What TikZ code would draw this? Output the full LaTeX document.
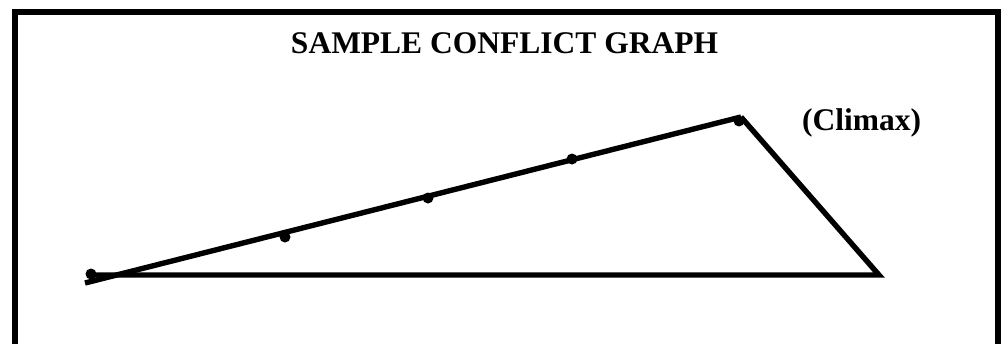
\documentclass[tikz,border=0pt]{standalone}
\usepackage{fontspec}
\setmainfont{Liberation Serif}
\begin{document}
\begin{tikzpicture}[x=1pt,y=-1pt,
  frame/.style={line width=6pt},
  plotline/.style={line width=5.4pt},
  dotmark/.style={circle,fill=black,inner sep=0pt,minimum size=11pt},
  label/.style={font=\bfseries\fontsize{31.5}{35}\selectfont,inner sep=0pt}]
\useasboundingbox (0,0) rectangle (1004,343);
\begin{scope}
\clip (0,0) rectangle (1004,343);
\draw[frame] (14.5,360) -- (14.5,12) -- (997.5,12) -- (997.5,360);
\end{scope}
\node[label] (title) at (504.5,43) {SAMPLE CONFLICT GRAPH};
\node[label] (climax) at (861.5,123) {(Climax)};
\coordinate (start) at (85,283);
\coordinate (apex) at (741,117);
\coordinate (right) at (879,275);
\coordinate (bl) at (88,275);
\draw[plotline] (start) -- (apex);
\draw[plotline,line join=miter] (apex) -- (right) -- (bl);
\node[dotmark] (d0) at (91,274) {};
\node[dotmark] (d1) at (285,237) {};
\node[dotmark] (d2) at (428,198) {};
\node[dotmark] (d3) at (572,159) {};
\node[dotmark] (d4) at (739,121) {};
\end{tikzpicture}
\end{document}
